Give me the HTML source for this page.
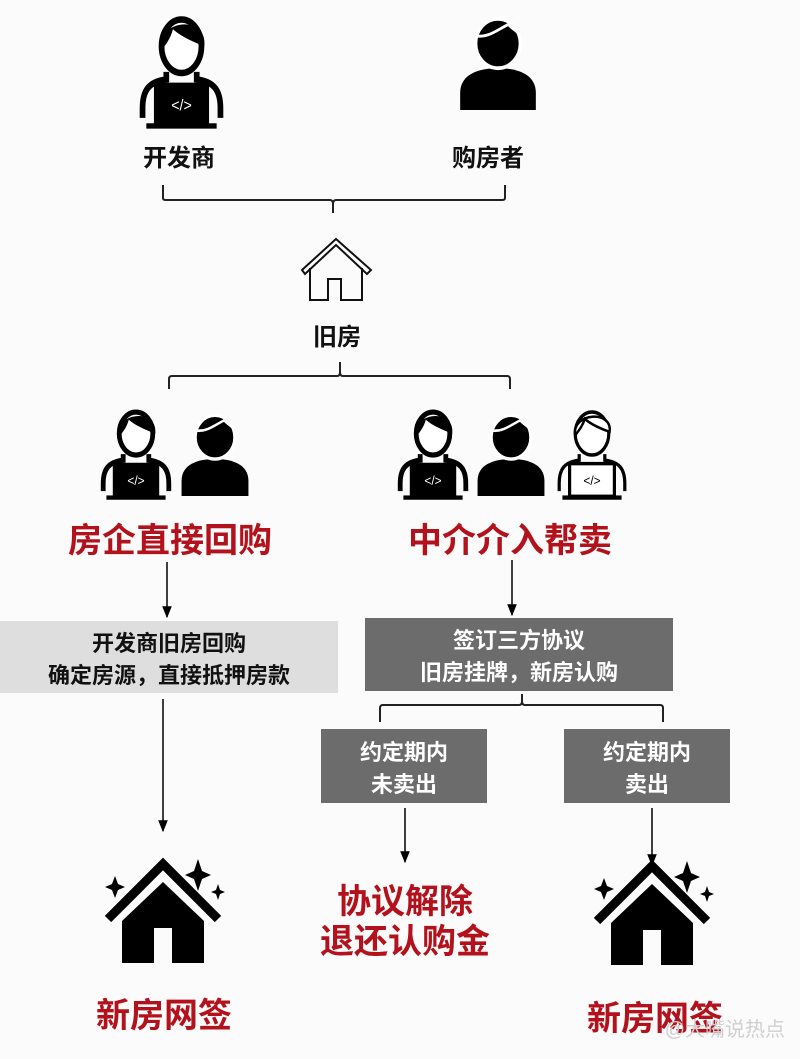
<!DOCTYPE html>
<html><head><meta charset="utf-8"><style>
html,body{margin:0;padding:0;background:#fbfbfb;}
svg{display:block}
text{font-family:"Liberation Sans","Noto Sans CJK SC",sans-serif;font-weight:bold;}
</style></head><body>
<svg width="800" height="1059" viewBox="0 0 800 1059" xmlns="http://www.w3.org/2000/svg">
<defs>
<g id="dev">
 <path d="M34,56 L34,63 C16,65 9,73 9,90 L9,99 M66,56 L66,63 C84,65 91,73 91,90 L91,99" stroke="#000" stroke-width="6" fill="none"/>
 <ellipse cx="50" cy="32" rx="21" ry="25" fill="#fff" stroke="#000" stroke-width="6"/>
 <path d="M27,38 C22,6 78,2 74,32 C62,28 48,22 41,16 C38,26 33,31 27,38 Z" fill="#000"/>
 <rect x="21" y="66" width="58" height="40" fill="#000"/>
 <rect x="13" y="104" width="74" height="5" fill="#000"/>
 <text x="50" y="92" font-size="15" fill="#fff" text-anchor="middle" style="font-weight:normal">&lt;/&gt;</text>
</g>
<g id="devw">
 <path d="M34,56 L34,63 C16,65 9,73 9,90 L9,99 M66,56 L66,63 C84,65 91,73 91,90 L91,99" stroke="#000" stroke-width="4" fill="none"/>
 <ellipse cx="50" cy="32" rx="21" ry="25" fill="#fff" stroke="#000" stroke-width="4"/>
 <path d="M29,34 C24,8 76,4 72,30 C62,27 48,21 41,15 C38,24 33,29 29,34 Z" fill="#fff" stroke="#000" stroke-width="3"/>
 <rect x="22" y="67" width="56" height="38" fill="#fff" stroke="#000" stroke-width="4"/>
 <rect x="13" y="104" width="74" height="5" fill="#000"/>
 <text x="50" y="92" font-size="15" fill="#000" text-anchor="middle" style="font-weight:normal">&lt;/&gt;</text>
</g>
<g id="buyer">
 <path d="M6,100 L6,82 C6,62 28,56 50,56 C72,56 94,62 94,82 L94,100 Z" fill="#000"/>
 <circle cx="50" cy="30" r="26" fill="#000" stroke="#fff" stroke-width="4"/>
 <path d="M25,22 C40,24 52,14 62,10 C68,16 72,16 76,22" stroke="#fff" stroke-width="3" fill="none"/>
</g>
<g id="bighouse">
 <path d="M-55,55 L0,0 L55,55" stroke="#000" stroke-width="9" fill="none"/>
 <path d="M-41,57 L0,18 L41,57 L41,99 L9,99 L9,64 L-9,64 L-9,99 L-41,99 Z" fill="#000"/>
 <path d="M-48,12 L-45,20 L-38,23 L-45,26 L-48,34 L-51,26 L-58,23 L-51,20 Z" fill="#000"/>
 <path d="M35,-5 L39,7 L48,11 L39,15 L35,27 L31,15 L22,11 L31,7 Z" fill="#000"/>
 <path d="M55,20 L57,26 L62,28 L57,30 L55,36 L53,30 L48,28 L53,26 Z" fill="#000"/>
</g>
<marker id="ar" viewBox="0 0 10 10" refX="9" refY="5" markerWidth="8" markerHeight="8" orient="auto"><path d="M0,1 L10,5 L0,9 Z" fill="#000"/></marker>
</defs>

<!-- top icons -->
<use href="#dev" transform="translate(134,12) scale(0.95,1.07)"/>
<use href="#buyer" transform="translate(455,15) scale(0.86,0.95)"/>
<text x="179" y="166" font-size="24" text-anchor="middle" fill="#111">开发商</text>
<text x="488" y="166" font-size="24" text-anchor="middle" fill="#111">购房者</text>

<path d="M163,185 L163,198 Q163,200 166,200 L330,200 Q333,200 333,204 L333,213 M333,204 Q333,200 336,200 L502,200 Q505,200 505,198 L505,185" stroke="#222" stroke-width="2" fill="none"/>

<!-- small outline house -->
<path d="M302,270 L336,239 L371,270 L367,274 L336,245 L305,274 Z" fill="#fff" stroke="#111" stroke-width="2" stroke-linejoin="miter"/>
<path d="M310,268 L310,300 L328,300 L328,279 L341,279 L341,300 L362,300 L362,268" fill="none" stroke="#111" stroke-width="2"/>
<text x="337" y="345" font-size="24" text-anchor="middle" fill="#111">旧房</text>

<path d="M169,389 L169,379 Q169,376 172,376 L337,376 Q340,376 340,372 L340,362 M340,372 Q340,376 343,376 L507,376 Q510,376 510,379 L510,389" stroke="#222" stroke-width="2" fill="none"/>

<!-- mid icons -->
<use href="#dev" transform="translate(96,406) scale(0.8,0.86)"/>
<use href="#buyer" transform="translate(177,412) scale(0.76,0.84)"/>
<use href="#dev" transform="translate(393,406) scale(0.8,0.86)"/>
<use href="#buyer" transform="translate(473,412) scale(0.76,0.84)"/>
<use href="#devw" transform="translate(552,406) scale(0.8,0.86)"/>

<text x="170" y="552" font-size="34" text-anchor="middle" fill="#b3121c">房企直接回购</text>
<text x="510" y="552" font-size="34" text-anchor="middle" fill="#b3121c">中介介入帮卖</text>

<line x1="167" y1="562" x2="167" y2="617" stroke="#000" stroke-width="1.5" marker-end="url(#ar)"/>
<line x1="512" y1="560" x2="512" y2="615" stroke="#000" stroke-width="1.5" marker-end="url(#ar)"/>

<rect x="0" y="621" width="338" height="72" fill="#dedede"/>
<text x="169" y="651" font-size="22" text-anchor="middle" fill="#111">开发商旧房回购</text>
<text x="169" y="683" font-size="22" text-anchor="middle" fill="#111">确定房源，直接抵押房款</text>

<rect x="365" y="618" width="308" height="73" fill="#6c6c6c"/>
<text x="519" y="648" font-size="22" text-anchor="middle" fill="#fff">签订三方协议</text>
<text x="519" y="680" font-size="22" text-anchor="middle" fill="#fff">旧房挂牌，新房认购</text>

<path d="M380,722 L380,708 Q380,705 383,705 L519,705 Q522,705 522,701 L522,694 M522,701 Q522,705 525,705 L660,705 Q663,705 663,708 L663,722" stroke="#222" stroke-width="2" fill="none"/>

<rect x="321" y="729" width="166" height="74" fill="#6c6c6c"/>
<text x="404" y="760" font-size="22" text-anchor="middle" fill="#fff">约定期内</text>
<text x="404" y="792" font-size="22" text-anchor="middle" fill="#fff">未卖出</text>
<rect x="564" y="729" width="166" height="74" fill="#6c6c6c"/>
<text x="647" y="760" font-size="22" text-anchor="middle" fill="#fff">约定期内</text>
<text x="647" y="792" font-size="22" text-anchor="middle" fill="#fff">卖出</text>

<line x1="163" y1="699" x2="163" y2="831" stroke="#000" stroke-width="1.5" marker-end="url(#ar)"/>
<line x1="405" y1="808" x2="405" y2="862" stroke="#000" stroke-width="1.5" marker-end="url(#ar)"/>
<line x1="652" y1="808" x2="652" y2="865" stroke="#000" stroke-width="1.5" marker-end="url(#ar)"/>

<use href="#bighouse" transform="translate(163,864)"/>
<use href="#bighouse" transform="translate(652,866)"/>

<text x="405" y="913" font-size="34" text-anchor="middle" fill="#b3121c">协议解除</text>
<text x="405" y="953" font-size="34" text-anchor="middle" fill="#b3121c">退还认购金</text>

<text x="164" y="1027" font-size="34" text-anchor="middle" fill="#b3121c">新房网签</text>
<text x="655" y="1030" font-size="34" text-anchor="middle" fill="#b3121c">新房网签</text>
<text x="785" y="1036" font-size="20" text-anchor="end" fill="#cfcfcf" style="font-weight:normal">@大嘴说热点</text>
</svg>
</body></html>
